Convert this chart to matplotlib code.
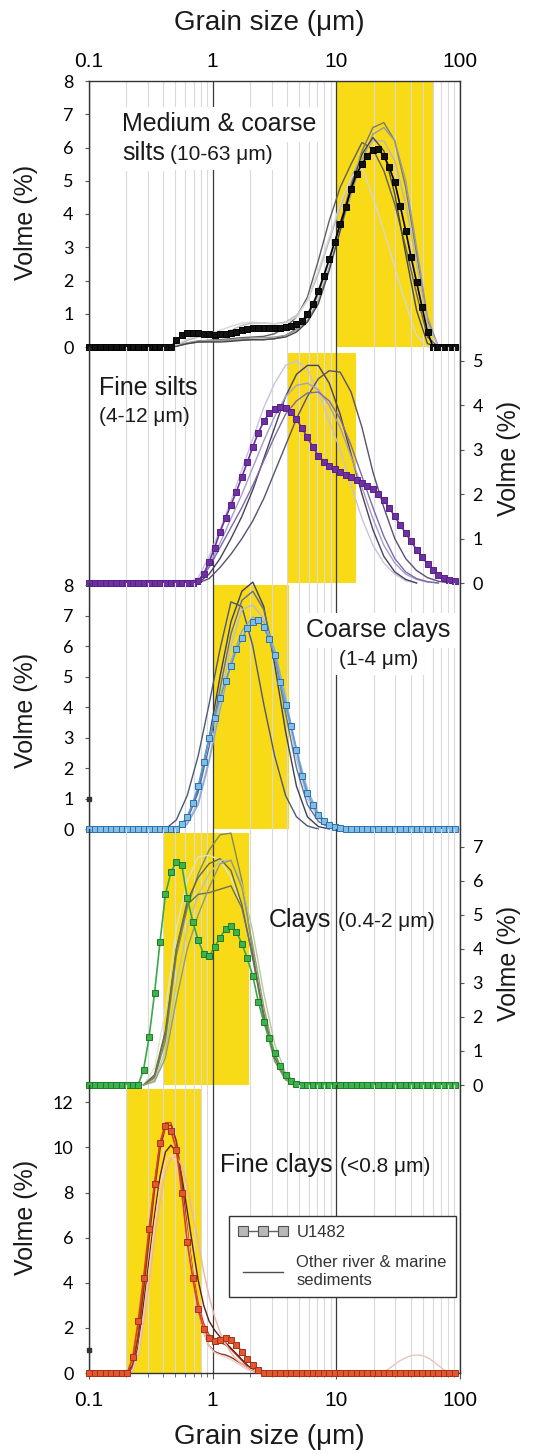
import matplotlib.pyplot as plt
from matplotlib.lines import Line2D
from matplotlib.ticker import NullFormatter

plt.rcParams['font.family'] = ['Liberation Sans', 'DejaVu Sans']

W, H = 547, 1454

# grain size classes (um)
bins = [0.100, 0.111, 0.123, 0.136, 0.150, 0.166, 0.184, 0.204, 0.226, 0.250,
        0.276, 0.306, 0.339, 0.375, 0.415, 0.460, 0.509, 0.563, 0.623, 0.690,
        0.764, 0.846, 0.936, 1.036, 1.147, 1.270, 1.406, 1.557, 1.723, 1.907,
        2.112, 2.338, 2.588, 2.865, 3.171, 3.510, 3.886, 4.302, 4.762, 5.272,
        5.836, 6.460, 7.151, 7.916, 8.763, 9.701, 10.74, 11.89, 13.16, 14.57,
        16.13, 17.85, 19.76, 21.88, 24.22, 26.81, 29.68, 32.85, 36.37, 40.26,
        44.57, 49.34, 54.62, 60.46, 66.93, 74.09, 82.02, 90.80]
coarse = bins[::2]  # other sediments are given every other class

# U1482 end members, volume % per class
u_silt = [0] * 16 + [0.2, 0.35, 0.42, 0.42, 0.42, 0.4, 0.38, 0.37, 0.38, 0.4,
                     0.42, 0.45, 0.5, 0.53, 0.56, 0.57, 0.58, 0.58, 0.58, 0.58,
                     0.6, 0.62, 0.68, 0.78, 0.98, 1.28, 1.68, 2.15, 2.65, 3.15,
                     3.7, 4.2, 4.75, 5.2, 5.5, 5.75, 5.92, 5.95, 5.75, 5.4,
                     4.95, 4.25, 3.5, 2.7, 1.95, 1.2, 0.45] + [0] * 5
u_fsilt = [0] * 20 + [0.05, 0.2, 0.48, 0.79, 1.15, 1.46, 1.76, 2.06, 2.39, 2.72,
                      3.07, 3.38, 3.64, 3.82, 3.92, 3.97, 3.93, 3.85, 3.69, 3.49,
                      3.28, 3.06, 2.87, 2.73, 2.63, 2.56, 2.5, 2.44, 2.38, 2.32,
                      2.25, 2.19, 2.11, 2.0, 1.86, 1.69, 1.5, 1.31, 1.12, 0.94,
                      0.75, 0.59, 0.43, 0.29, 0.19, 0.12, 0.07, 0.04]
u_cclay = [0] * 17 + [0.15, 0.4, 0.85, 1.4, 2.2, 3.0, 3.65, 4.3, 4.85, 5.35,
                      5.9, 6.25, 6.58, 6.8, 6.85, 6.62, 6.23, 5.7, 4.82, 4.07,
                      3.37, 2.6, 1.75, 1.17, 0.78, 0.45, 0.25, 0.12, 0.06, 0.03,
                      0.01] + [0] * 20
u_clay = [0] * 10 + [0.45, 1.4, 2.7, 4.2, 5.6, 6.25, 6.55, 6.45, 5.5, 4.8,
                     4.25, 3.85, 3.78, 4.05, 4.33, 4.58, 4.68, 4.5, 4.15, 3.72,
                     3.2, 2.45, 1.85, 1.38, 0.95, 0.55, 0.3, 0.12, 0.03] + [0] * 29
u_fclay = [0] * 8 + [0.7, 2.3, 4.2, 6.4, 8.4, 10.2, 10.95, 10.75, 9.9, 8.0,
                     5.8, 4.2, 2.85, 1.95, 1.55, 1.44, 1.47, 1.53, 1.45, 1.25,
                     0.95, 0.62, 0.35, 0.12, 0.02] + [0] * 35

# other river & marine sediments
o_silt = [
    [0, 0.05, 0.12, 0.18, 0.2, 0.22, 0.25, 0.28, 0.3, 0.32, 0.4, 0.6, 0.9, 1.5, 2.6, 3.8, 4.8, 5.5, 6.15, 5.95, 5.3, 4.3, 3.0, 1.6, 0.3, 0],
    [0, 0.03, 0.1, 0.15, 0.17, 0.18, 0.2, 0.22, 0.22, 0.22, 0.25, 0.35, 0.55, 0.9, 1.6, 2.6, 3.7, 4.9, 5.9, 6.6, 6.75, 6.2, 4.8, 2.8, 0.8, 0],
    [0, 0.03, 0.12, 0.18, 0.2, 0.2, 0.22, 0.25, 0.27, 0.28, 0.3, 0.35, 0.5, 0.8, 1.4, 2.4, 3.5, 4.6, 5.6, 6.4, 6.6, 6.2, 5.0, 3.0, 0.9, 0],
    [0, 0.05, 0.2, 0.3, 0.35, 0.4, 0.5, 0.65, 0.72, 0.72, 0.7, 0.75, 0.95, 1.4, 2.2, 3.2, 4.2, 5.1, 5.8, 6.2, 6.2, 5.6, 4.3, 2.5, 0.7, 0],
    [0, 0.05, 0.25, 0.35, 0.4, 0.5, 0.62, 0.72, 0.75, 0.72, 0.7, 0.72, 0.9, 1.4, 2.3, 3.3, 4.3, 5.1, 5.4, 4.5, 3.5, 2.4, 1.3, 0.35, 0, 0],
    [0, 0.02, 0.1, 0.15, 0.15, 0.15, 0.17, 0.2, 0.22, 0.22, 0.25, 0.3, 0.45, 0.75, 1.3, 2.3, 3.5, 4.8, 5.8, 6.3, 5.9, 4.6, 2.8, 1.1, 0.1, 0],
]
o_fsilt = [
    [0, 0.12, 0.6, 1.2, 1.85, 2.55, 3.25, 3.95, 4.5, 4.9, 5.0, 4.8, 4.3, 3.65, 3.0, 2.2, 1.45, 0.85, 0.45, 0.2, 0.05, 0],
    [0, 0, 0.2, 0.55, 1.0, 1.5, 2.1, 2.8, 3.5, 4.2, 4.7, 4.9, 4.9, 4.5, 3.8, 2.9, 2.0, 1.2, 0.6, 0.25, 0.08, 0],
    [0, 0, 0.1, 0.35, 0.65, 1.0, 1.4, 1.9, 2.5, 3.1, 3.7, 4.2, 4.6, 4.78, 4.75, 4.3, 3.5, 2.5, 1.7, 1.0, 0.55, 0.28, 0.12, 0.04, 0],
    [0, 0.05, 0.4, 0.9, 1.45, 2.0, 2.6, 3.2, 3.75, 4.2, 4.45, 4.5, 4.35, 4.0, 3.5, 2.85, 2.15, 1.45, 0.85, 0.45, 0.2, 0.08, 0.02, 0],
    [0, 0.05, 0.35, 0.8, 1.25, 1.7, 2.2, 2.75, 3.3, 3.8, 4.1, 4.28, 4.3, 4.1, 3.7, 3.1, 2.4, 1.7, 1.05, 0.55, 0.25, 0.1, 0.03, 0],
]
o_cclay = [
    [0, 0, 0.35, 1.3, 3.0, 5.0, 6.8, 7.8, 8.1, 7.3, 5.4, 3.2, 1.4, 0.4, 0.08, 0],
    [0, 0.3, 1.1, 2.4, 4.1, 5.9, 7.45, 7.3, 6.0, 4.1, 2.4, 1.1, 0.4, 0.1, 0],
    [0, 0, 0.3, 1.2, 2.7, 4.6, 6.4, 7.5, 7.8, 7.2, 5.7, 3.8, 2.0, 0.8, 0.25, 0.05, 0],
    [0, 0, 0.2, 0.9, 2.3, 4.2, 6.0, 7.2, 7.35, 6.9, 5.8, 4.1, 2.3, 1.0, 0.35, 0.1, 0],
    [0, 0, 0.15, 0.8, 2.2, 3.9, 5.5, 6.5, 6.95, 6.8, 5.9, 4.3, 2.6, 1.3, 0.5, 0.15, 0.03, 0],
]
o_clay = [
    [0, 0.2, 1.3, 3.8, 5.2, 6.2, 6.9, 7.35, 7.4, 6.0, 3.9, 1.9, 0.7, 0.15, 0],
    [0, 0.5, 2.2, 4.6, 6.0, 6.7, 6.75, 6.6, 6.1, 5.2, 3.7, 2.0, 0.8, 0.2, 0],
    [0, 0.3, 1.6, 4.0, 5.4, 6.1, 6.5, 6.65, 6.3, 5.3, 3.7, 2.0, 0.8, 0.2, 0],
    [0, 0.15, 1.0, 3.0, 4.6, 5.6, 6.2, 6.6, 6.6, 5.9, 4.5, 2.7, 1.2, 0.35, 0.05, 0],
    [0, 0.25, 1.5, 4.0, 5.3, 5.6, 5.65, 5.75, 5.85, 5.2, 3.8, 2.1, 0.8, 0.2, 0],
    [0, 0.1, 0.8, 2.5, 4.0, 5.0, 5.8, 6.5, 6.6, 5.8, 4.1, 2.3, 0.9, 0.2, 0],
]
o_fclay = [
    [0, 0.4, 1.8, 3.9, 6.2, 8.4, 10.2, 11.1, 11.1, 10.2, 8.4, 6.3, 4.5, 3.1, 2.2, 1.7, 1.45, 1.35, 1.25, 1.05, 0.8, 0.55, 0.3, 0.12, 0.03, 0, 0, 0],
    [0, 0.2, 1.2, 3.0, 5.0, 7.0, 8.7, 9.8, 10.1, 9.8, 8.7, 7.2, 5.6, 4.1, 3.0, 2.3, 1.9, 1.6, 1.35, 1.1, 0.85, 0.6, 0.35, 0.15, 0.05, 0, 0, 0],
    [0, 0.35, 1.6, 3.6, 5.9, 8.1, 9.9, 10.9, 11.0, 10.3, 8.6, 6.4, 4.4, 2.8, 1.8, 1.2, 0.95, 0.85, 0.8, 0.7, 0.55, 0.4, 0.25, 0.1, 0.03, 0, 0, 0],
    [0, 0.1, 0.8, 2.2, 4.0, 5.9, 7.6, 8.9, 9.5, 9.6, 9.2, 8.3, 7.0, 5.8, 4.5, 3.4, 2.5, 1.8, 1.3, 0.9, 0.6, 0.4, 0.25, 0.12, 0.05, 0, 0, 0],
    [0, 0.15, 1.0, 2.6, 4.6, 6.6, 8.3, 9.4, 9.7, 9.3, 8.0, 6.2, 4.3, 2.8, 1.8, 1.2, 0.9, 0.8, 0.7, 0.6, 0.45, 0.3, 0.15, 0.05, 0, 0, 0, 0],
]
# coarse tail of one fine-clay sample (classes 53..67)
o_fclay_tail = [0, 0.05, 0.2, 0.38, 0.55, 0.68, 0.77, 0.8, 0.78, 0.68, 0.52, 0.33, 0.15, 0.03, 0]
stray = [1]

# size windows of each end member (um)
band_lo = [10, 4.03, 1.0, 0.404, 0.2]
band_hi = [60, 14.4, 4.15, 1.98, 0.81]

U = [u_silt, u_fsilt, u_cclay, u_clay, u_fclay]
O = [o_silt, o_fsilt, o_cclay, o_clay, o_fclay]
o_grid = [coarse, coarse, coarse, coarse, bins]
o_start = [7, 9, 7, 5, 7]

o_cols = [
    ['#5f5f5f', '#7a7a7a', '#9a9a9a', '#b8b8b8', '#d6d6d6', '#474747'],
    ['#c8c2de', '#4a4060', '#5a5070', '#a69ecb', '#7e6aa8'],
    ['#3c4157', '#4d5779', '#5f6d9a', '#b5bfd6', '#86acd6'],
    ['#7f8d58', '#dfe3c6', '#5f6b43', '#bcc79e', '#6c7056', '#909d74'],
    ['#d8452c', '#5e1e14', '#8c3424', '#ebb5a8', '#f3cdc4'],
]
u_line = ['#000000', '#7030a0', '#5b9bd5', '#3aa845', '#d9401f']
u_face = ['#111111', '#7030a0', '#80bde8', '#3cb44b', '#e2572f']
u_edge = ['#000000', '#55208a', '#2e6fa8', '#1e7a2a', '#a63015']
YELLOW = '#f8da17'

# layout (pixels)
tops = [81, 347, 583, 829, 1085]
bots = [347, 583, 829, 1085, 1373]
ymax = [8, 5.315, 8.07, 7.52, 12.77]
band_top = [8, 5.18, 8.0, 7.41, 12.6]
yticks = [range(0, 9), range(0, 6), range(0, 9), range(0, 8), range(0, 13, 2)]
side = ['left', 'right', 'left', 'right', 'left']
minor = [m * d for d in (0.1, 1, 10) for m in range(2, 10)]

fig = plt.figure(figsize=(W / 100, H / 100), dpi=100)

for i in range(5):
    ax = fig.add_axes([89 / W, 1 - bots[i] / H, 371 / W, (bots[i] - tops[i]) / H])
    ax.patch.set_visible(False)
    ax.set_xscale('log')
    ax.set_xlim(0.1, 100)
    ax.set_ylim(0, ymax[i])
    ax.set_xticks([0.1, 1, 10, 100], labels=['0.1', '1', '10', '100'])
    ax.set_xticks(minor, minor=True)
    ax.xaxis.set_minor_formatter(NullFormatter())
    ax.set_axisbelow(True)
    ax.grid(True, which='minor', axis='x', color='#dadada', lw=0.8)
    ax.grid(True, which='major', axis='x', color='#3a3a3a', lw=0.9)

    for s in ax.spines.values():
        s.set_color('#333333')
        s.set_linewidth(1)
    ax.spines['top'].set_visible(i == 0)
    ax.spines['bottom'].set_visible(i == 4)

    if i == 0:
        ax.xaxis.tick_top()
        ax.tick_params(axis='x', which='both', length=0, pad=7, labelsize=15)
    elif i == 4:
        ax.tick_params(axis='x', which='major', length=4, pad=9, labelsize=15,
                       color='#555555')
        ax.tick_params(axis='x', which='minor', length=3, color='#555555')
    else:
        ax.tick_params(axis='x', which='both', length=0, labelbottom=False)

    ax.set_yticks(list(yticks[i]))
    if side[i] == 'left':
        ax.yaxis.tick_left()
        ax.tick_params(axis='y', length=3, pad=8, labelsize=13, color='#555555',
                       labelfontfamily='Lato')
    else:
        ax.yaxis.tick_right()
        ax.tick_params(axis='y', length=3, pad=6, labelsize=13, color='#555555',
                       labelfontfamily='Lato')

    ax.fill_between([band_lo[i], band_hi[i]], 0, band_top[i], color=YELLOW,
                    lw=0, zorder=0.1)

    st = o_start[i]
    for vals, col in zip(O[i], o_cols[i]):
        ax.plot(o_grid[i][st:st + len(vals)], vals, color=col, lw=1.0,
                zorder=2, clip_on=False)
    if i == 4:
        ax.plot(bins[53:53 + len(o_fclay_tail)], o_fclay_tail, color='#ebc4bb',
                lw=1.0, zorder=2)

    ax.plot(bins, U[i], color=u_line[i], lw=1.2, marker='s', ms=4.2,
            mfc=u_face[i], mec=u_edge[i], mew=0.7, zorder=3, clip_on=False)

    if i in (2, 4):
        ax.plot(bins[:1], stray, 's', color='#333333', ms=2.5, zorder=4,
                clip_on=False)


def ftext(x, y, s, **kw):
    kw.setdefault('color', '#1a1a1a')
    fig.text(x / W, 1 - y / H, s, **kw)


white = dict(fc='white', ec='none', pad=4)
ftext(269, 23, 'Grain size (μm)', fontsize=20, ha='center', va='center')
ftext(269, 1437, 'Grain size (μm)', fontsize=20, ha='center', va='center')
for x, y in [(26, 222), (509, 458), (26, 710), (509, 963), (26, 1217)]:
    ftext(x, y, 'Volme (%)', fontsize=18, rotation=90, ha='center', va='center')

ftext(122, 131, 'Medium & coarse', fontsize=18, va='baseline', bbox=white)
ftext(122, 160, 'silts', fontsize=18, va='baseline', bbox=white)
ftext(170, 160, '(10-63 μm)', fontsize=15, va='baseline', bbox=white)
ftext(99, 395, 'Fine silts', fontsize=18, va='baseline')
ftext(99, 422, '(4-12 μm)', fontsize=15, va='baseline')
ftext(378, 637, 'Coarse clays', fontsize=18, ha='center', va='baseline', bbox=white)
ftext(379, 665, '(1-4 μm)', fontsize=15, ha='center', va='baseline', bbox=white)
ftext(269, 927, 'Clays', fontsize=18, va='baseline')
ftext(338, 927, '(0.4-2 μm)', fontsize=15, va='baseline')
ftext(220, 1172, 'Fine clays', fontsize=18, va='baseline')
ftext(340, 1172, '(<0.8 μm)', fontsize=15, va='baseline')

h1 = Line2D([], [], color='#606060', lw=1, marker='s', ms=6.5, mfc='#b8b8b8',
            mec='#505050', mew=0.8)
h2 = Line2D([], [], color='#505050', lw=1)
leg = fig.legend([h1, h2], ['U1482', 'Other river & marine\nsediments'],
                 loc='upper left', bbox_to_anchor=(229 / W, 1 - 1216 / H),
                 numpoints=3, fontsize=12, frameon=True, fancybox=False,
                 edgecolor='#333333', framealpha=1, handlelength=3.0,
                 handletextpad=0.5, borderpad=0.55, labelspacing=0.9,
                 borderaxespad=0)
leg.get_frame().set_linewidth(1.0)
for t in leg.get_texts():
    t.set_color('#333333')

fig.savefig('out.png', dpi=100)
